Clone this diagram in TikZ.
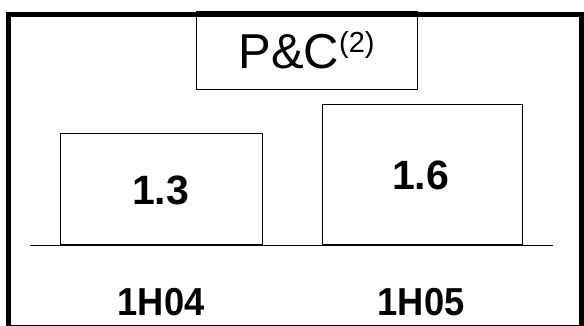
\documentclass[tikz,border=0pt]{standalone}
\usepackage{fontspec}
\setmainfont{Liberation Sans}
\begin{document}
\begin{tikzpicture}[x=1pt,y=-1pt,
  thinbox/.style={draw=black,line width=1.3pt},
  frame/.style={draw=black,line width=5pt},
  valtext/.style={font=\fontsize{41}{41}\selectfont\bfseries,inner sep=0pt},
  labtext/.style={font=\fontsize{39}{39}\selectfont\bfseries,inner sep=0pt}]
\useasboundingbox (0,0) rectangle (584,326);
\begin{scope}
\clip (0,0) rectangle (584,326);
% title box
\node[thinbox,minimum width=221pt,minimum height=77.5pt,inner sep=0pt,anchor=north west] (title) at (196,11.5) {};
\node[anchor=base,inner sep=0pt,font=\fontsize{49}{49}\selectfont] (titletext) at (306.5,68.3) {P\&C\raisebox{16pt}{\fontsize{29}{29}\selectfont(2)}};
% frame
\draw[frame] (8.5,15) rectangle (581.5,327.5);
% baseline
\coordinate (bl) at (30,245.5);
\coordinate (br) at (553,245.5);
\draw[line width=1.3pt] (bl) -- (br);
% bars
\node[thinbox,minimum width=202pt,minimum height=111.5pt,inner sep=0pt,anchor=south west] (b1) at (60,245.5) {};
\node[thinbox,minimum width=200pt,minimum height=140.5pt,inner sep=0pt,anchor=south west] (b2) at (322,245.5) {};
\node[valtext] (v1) at (160.5,190) {1.3};
\node[valtext] (v2) at (420.5,175.5) {1.6};
\node[labtext,xscale=0.93] (l1) at (161,302.5) {1H04};
\node[labtext,xscale=0.93] (l2) at (421,302.5) {1H05};
\end{scope}
\end{tikzpicture}
\end{document}
